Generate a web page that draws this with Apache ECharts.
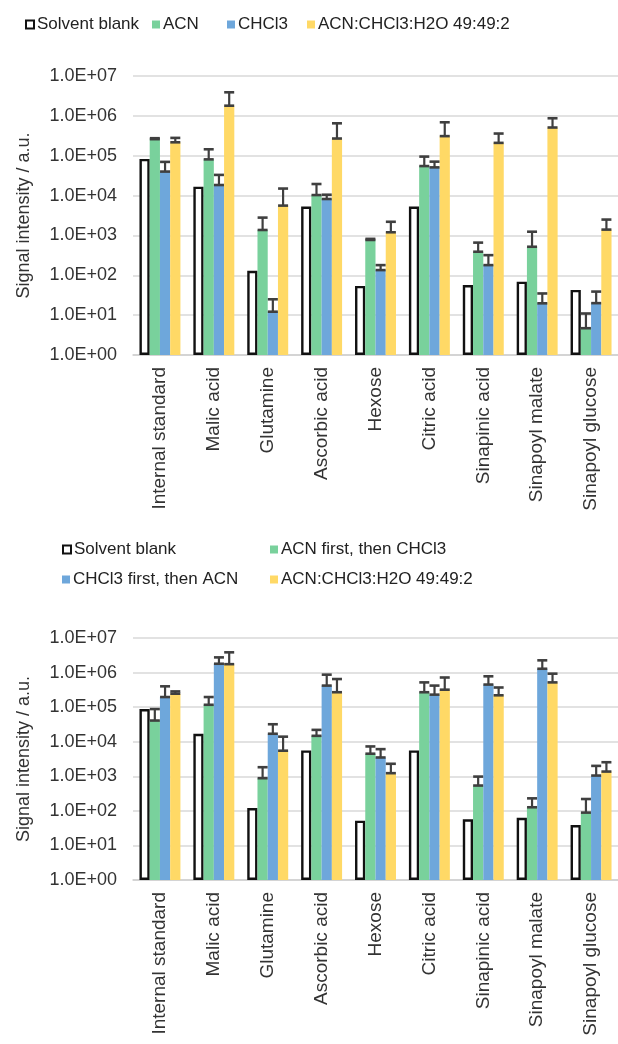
<!DOCTYPE html>
<html>
<head>
<meta charset="utf-8">
<script src="https://cdn.jsdelivr.net/npm/echarts@6/dist/echarts.min.js"></script>
<style>html,body{margin:0;padding:0;background:#fff}#c{width:618px;height:1044px}</style>
</head>
<body>
<div id="c"></div>
<script>
const categories = ['Internal standard','Malic acid','Glutamine','Ascorbic acid','Hexose','Citric acid','Sinapinic acid','Sinapoyl malate','Sinapoyl glucose'];
const yTickLabels = ['1.0E+00','1.0E+01','1.0E+02','1.0E+03','1.0E+04','1.0E+05','1.0E+06','1.0E+07'];

const topNames = ['Solvent blank','ACN','CHCl3','ACN:CHCl3:H2O 49:49:2'];
const topBlank = [8.3e4, 1.67e4, 130, 5300, 54, 5300, 57, 69, 43];
const topACN = [2.6e5, 8.1e4, 1370, 1.03e4, 770, 5.5e4, 390, 520, 4.7];
const topACNHigh = [2.75e5, 1.45e5, 2800, 1.95e4, 820, 9.5e4, 660, 1240, 11];
const topCHCl3 = [4.0e4, 1.84e4, 12.2, 8200, 135, 5.1e4, 180, 19.8, 20];
const topCHCl3High = [7.0e4, 3.3e4, 25, 1.05e4, 180, 7.1e4, 320, 35, 39];
const topMix = [2.17e5, 1.8e6, 5600, 2.7e5, 1200, 3.1e5, 2.1e5, 5.1e5, 1400];
const topMixHigh = [2.8e5, 3.9e6, 1.5e4, 6.5e5, 2200, 6.9e5, 3.6e5, 8.7e5, 2500];

const botNames = ['Solvent blank','ACN first, then CHCl3','CHCl3 first, then ACN','ACN:CHCl3:H2O 49:49:2'];
const botBlank = [8.8e4, 1.7e4, 120, 5600, 52, 5600, 57, 63, 39];
const botACN = [4.1e4, 1.17e5, 880, 1.48e4, 4500, 2.7e5, 540, 127, 89];
const botACNHigh = [8.8e4, 1.96e5, 1830, 2.2e4, 7300, 5.2e5, 980, 230, 220];
const botCHCl3 = [1.96e5, 1.8e6, 1.7e4, 4.2e5, 3500, 2.3e5, 4.5e5, 1.29e6, 1050];
const botCHCl3High = [4.0e5, 2.75e6, 3.2e4, 8.7e5, 6100, 4.2e5, 7.8e5, 2.26e6, 2000];
const botMix = [2.45e5, 1.75e6, 5500, 2.7e5, 1230, 3.2e5, 2.2e5, 5.2e5, 1370];
const botMixHigh = [2.85e5, 3.85e6, 1.4e4, 6.5e5, 2300, 7.2e5, 3.7e5, 9.3e5, 2550];

const COLORS = ['#ffffff', '#79D19C', '#6EA7DB', '#FFD966'];
const FONT = 'Liberation Sans, Arial, sans-serif';
const GAP = 0.24;

const chart = echarts.init(document.getElementById('c'), null, {renderer: 'canvas'});

function barSeries(name, data, idx, axisIdx) {
  const s = {
    name: name, type: 'bar', data: data,
    xAxisIndex: axisIdx, yAxisIndex: axisIdx,
    barGap: '0%', barCategoryGap: (GAP * 100) + '%',
    itemStyle: {color: COLORS[idx]}
  };
  if (idx === 0) s.itemStyle = {color: '#ffffff', borderColor: '#111', borderWidth: 2.4};
  return s;
}
function errSeries(values, highs, idx, axisIdx) {
  return {
    type: 'custom', xAxisIndex: axisIdx, yAxisIndex: axisIdx, z: 5,
    data: values.map((v, i) => [i, v, highs[i]]),
    renderItem: function (params, api) {
      const c = api.value(0);
      const lo = api.coord([c, api.value(1)]);
      const hi = api.coord([c, api.value(2)]);
      const catW = params.coordSys.width / categories.length;
      const bw = catW * (1 - GAP) / 4;
      const x = lo[0] + (idx - 1.5) * bw;
      const hw = 5;
      const st = {stroke: '#3f3f3f', lineWidth: 2.6};
      return {type: 'group', children: [
        {type: 'line', shape: {x1: x, y1: lo[1], x2: x, y2: hi[1]}, style: {stroke: '#3f3f3f', lineWidth: 2.2}},
        {type: 'line', shape: {x1: x - hw, y1: lo[1], x2: x + hw, y2: lo[1]}, style: st},
        {type: 'line', shape: {x1: x - hw, y1: hi[1], x2: x + hw, y2: hi[1]}, style: st}
      ]};
    }
  };
}
function legendItem(name, idx, left, top) {
  const d = {name: name};
  if (idx === 0) d.itemStyle = {color: '#ffffff', borderColor: '#111', borderWidth: 2};
  else d.itemStyle = {color: COLORS[idx], borderWidth: 0};
  return {
    data: [d], left: left, top: top, padding: 0, itemWidth: 8, itemHeight: 8, itemGap: 0,
    icon: 'rect', selectedMode: false,
    textStyle: {fontSize: 17, color: '#222', fontFamily: FONT, padding: [0, 0, 0, -2]}
  };
}
function yAxis(gridIdx) {
  return {
    type: 'log', gridIndex: gridIdx, logBase: 10, min: 1, max: 1e7, interval: 1,
    name: 'Signal intensity / a.u.', nameLocation: 'middle', nameGap: 100,
    nameTextStyle: {fontSize: 18, color: '#333', fontFamily: FONT},
    axisLine: {show: false}, axisTick: {show: false},
    axisLabel: {fontSize: 18, color: '#333', fontFamily: FONT, margin: 16,
      formatter: v => yTickLabels[Math.round(Math.log10(v))]},
    splitLine: {lineStyle: {color: '#d9d9d9', width: 1.5}}
  };
}
function xAxis(gridIdx) {
  return {
    type: 'category', gridIndex: gridIdx, data: categories,
    axisLine: {lineStyle: {color: '#d0d0d0', width: 1.5}}, axisTick: {show: false},
    axisLabel: {rotate: 90, fontSize: 19, color: '#333', fontFamily: FONT, margin: 12, interval: 0}
  };
}

chart.setOption({
  animation: false,
  backgroundColor: '#ffffff',
  legend: [
    legendItem(topNames[0], 0, 25, 16),
    legendItem(topNames[1], 1, 152, 16),
    legendItem(topNames[2], 2, 227, 16),
    legendItem(topNames[3], 3, 307, 16),
    legendItem(botNames[0], 0, 62, 541),
    legendItem(botNames[1], 1, 270, 541),
    legendItem(botNames[2], 2, 62, 571),
    legendItem(botNames[3], 3, 270, 571)
  ],
  grid: [
    {left: 133, top: 76, width: 489, height: 279},
    {left: 133, top: 638, width: 489, height: 242}
  ],
  xAxis: [xAxis(0), xAxis(1)],
  yAxis: [yAxis(0), yAxis(1)],
  series: [
    barSeries(topNames[0], topBlank, 0, 0),
    barSeries(topNames[1], topACN, 1, 0),
    barSeries(topNames[2], topCHCl3, 2, 0),
    barSeries(topNames[3], topMix, 3, 0),
    errSeries(topACN, topACNHigh, 1, 0),
    errSeries(topCHCl3, topCHCl3High, 2, 0),
    errSeries(topMix, topMixHigh, 3, 0),
    barSeries(botNames[0], botBlank, 0, 1),
    barSeries(botNames[1], botACN, 1, 1),
    barSeries(botNames[2], botCHCl3, 2, 1),
    barSeries(botNames[3], botMix, 3, 1),
    errSeries(botACN, botACNHigh, 1, 1),
    errSeries(botCHCl3, botCHCl3High, 2, 1),
    errSeries(botMix, botMixHigh, 3, 1)
  ]
});
</script>
</body>
</html>
